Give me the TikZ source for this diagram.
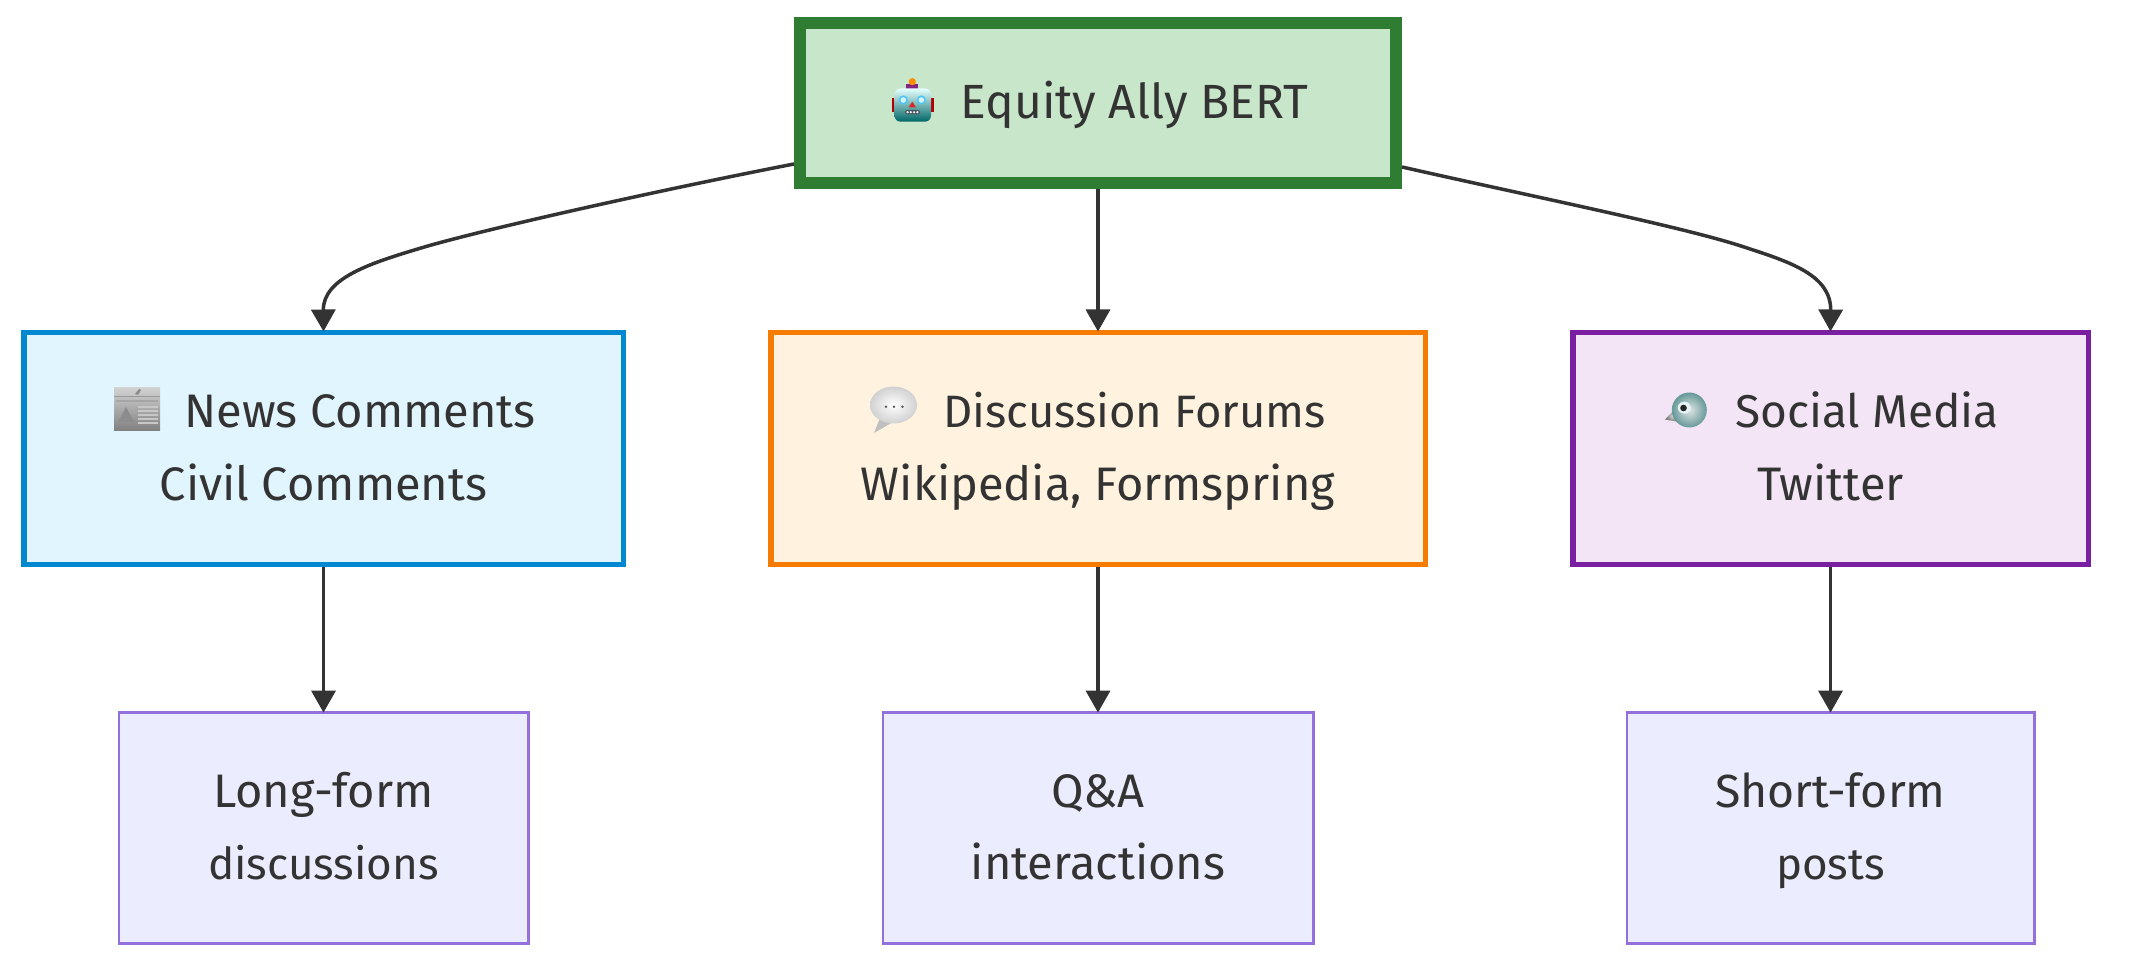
\documentclass[tikz,border=0pt]{standalone}
\usepackage{fontspec}
\setmainfont{Fira Sans}
\newfontfamily\emojifont{Noto Emoji}
\usetikzlibrary{arrows.meta}
\definecolor{ink}{HTML}{333333}
\definecolor{rootfill}{HTML}{C8E6C9}\definecolor{rootline}{HTML}{2E7D32}
\definecolor{newsfill}{HTML}{E1F5FE}\definecolor{newsline}{HTML}{0288D1}
\definecolor{discfill}{HTML}{FFF3E0}\definecolor{discline}{HTML}{F57C00}
\definecolor{socfill}{HTML}{F3E5F5}\definecolor{socline}{HTML}{7B1FA2}
\definecolor{leaffill}{HTML}{ECECFF}\definecolor{leafline}{HTML}{9370DB}
\newcommand{\lstrut}{\rule[-10.4pt]{0pt}{36.3pt}}
\newcommand{\fsz}[1]{\fontsize{#1}{36.35}\selectfont}
% #1 glyph, #2 offset from the slot start, #3 raise
\newcommand{\emo}[3]{\makebox[36.5pt][l]{\hspace{#2}\raisebox{#3}{\textcolor{gray}{\emojifont\fontsize{12pt}{12pt}\selectfont #1}}}}
\tikzset{
  x=.5pt,y=-.5pt,
  base/.style={rectangle,inner sep=0pt,align=center,text=ink,
    font=\fontsize{23.5}{36.35}\selectfont},
  rootbox/.style={base,draw=rootline,fill=rootfill,line width=6pt,minimum width=298pt,minimum height=80pt},
  newsbox/.style={base,draw=newsline,fill=newsfill,line width=2.8pt,minimum width=299.8pt,minimum height=115.8pt},
  discbox/.style={base,draw=discline,fill=discfill,line width=2.8pt,minimum width=327.3pt,minimum height=115.8pt},
  socbox/.style={base,draw=socline,fill=socfill,line width=2.8pt,minimum width=257.8pt,minimum height=115.8pt},
  leafbox/.style={base,draw=leafline,fill=leaffill,line width=1.35pt,minimum height=115.65pt},
  conn/.style={draw=ink,line width=1.75pt,shorten >=-.8pt,-{Triangle[length=11pt,width=12pt,fill=ink]}}
}
\begin{document}
\begin{tikzpicture}
\useasboundingbox[fill=white] (0,0) rectangle (2136,978);
\coordinate (lm) at (421,248);
\coordinate (rm) at (1744,247);
\node[rootbox] (root) at (1098,103) {\lstrut\emo{🤖}{4.5pt}{2pt}{\fsz{24}Equity Ally BERT}};
\node[newsbox] (news) at (323.5,448.5) {\lstrut\emo{📰}{5.5pt}{4pt}News Comments\\\lstrut Civil Comments};
\node[discbox] (disc) at (1098,448.5) {\lstrut\emo{💬}{5.5pt}{6.5pt}{\fsz{22.7}Discussion Forums}\\\lstrut Wikipedia, Formspring};
\node[socbox] (soc) at (1830.5,448.5) {\lstrut\emo{🐦}{6.5pt}{4pt}{\fsz{23}Social Media}\\\lstrut Twitter};
\node[leafbox,minimum width=204.65pt] (long) at (323.5,828) {\lstrut Long-form\\\lstrut{\fsz{22}discussions}};
\node[leafbox,minimum width=215.15pt] (qa) at (1098,828) {\lstrut Q\&A\\\lstrut interactions};
\node[leafbox,minimum width=203.65pt] (short) at (1830.5,828) {\lstrut{\fsz{23.2}Short-form}\\\lstrut{\fsz{22}posts}};
% connectors
\draw[conn] ([yshift=-30.5pt]root.west) .. controls (660,190) and (481,230) .. (lm) .. controls (371,263) and (323,278) .. (news.north);
\draw[conn] (root) -- (disc);
\draw[conn] ([yshift=-32pt]root.east) .. controls (1530,196) and (1684,227) .. (rm) .. controls (1790,262) and (1831,275) .. (soc.north);
\draw[conn] (news) -- (long);
\draw[conn] (disc) -- (qa);
\draw[conn] (soc) -- (short);
% robot colouring
\fill[red!70!black] (892,98) rectangle (896,112);
\fill[red!70!black] (930,98) rectangle (934,112);
\fill[violet!70!gray] (906,84.5) rectangle (918,90);
\fill[orange!90!yellow] (912.3,81.7) circle (3.6);
\shade[rounded corners=3pt,top color=cyan!10!white,middle color=cyan!25!gray!40,bottom color=cyan!40!black] (894.5,88.5) rectangle (931,121.7);
\fill[cyan!70!white] (903.3,100) circle (4.6);\fill[white!85!cyan] (903.3,100) circle (2.8);
\fill[cyan!70!white] (921.3,100) circle (4.6);\fill[white!85!cyan] (921.3,100) circle (2.8);
\fill[red!70!gray] (912.3,101.7) -- (908.5,107.5) -- (916,107.5) -- cycle;
\fill[black!70!cyan,rounded corners=1pt] (905,110) rectangle (920,114.5);
\foreach \mx in {907.5,910.8,914.1,917.4}{\fill[white!85!gray] (\mx,112.2) circle (1.3);}
% newspaper colouring
\shade[top color=black!18,middle color=black!7,bottom color=black!50] (114,388) rectangle (160,431);
\fill[black!40] (114,396) rectangle (160,397.5);
\fill[black!35] (116,400) rectangle (158,402);
\fill[black!45] (135,394) -- (139,389) -- (141,390) -- (138,395) -- cycle;
\fill[black!45] (126,407) -- (134,422) -- (118,422) -- cycle;
\foreach \ly in {406,410,414,418,422}{\fill[black!22] (138,\ly) rectangle (158,\ly+2);}
% speech bubble colouring
\fill[black!25] (880,418) -- (874,433) -- (893,422) -- cycle;
\shade[inner color=white,outer color=black!18] (893.5,405) ellipse (23.5 and 18.5);
\fill[black!65] (886,406.7) circle (1.4);
\fill[black!65] (894,406.7) circle (1.4);
\fill[black!65] (902.5,406.7) circle (1.4);
% bird colouring
\shade[inner color=black!15,outer color=black!55] (1665,419.5) -- (1675,409.3) -- (1681,414) -- (1679,422) -- cycle;
\shade[inner color=cyan!12!black!12,outer color=teal!50!gray!80] (1689.3,410) circle (17.5);
\fill[white!90!teal] (1684.3,407.7) ellipse (6.5 and 6);
\fill[black!85] (1683.5,408) circle (3.3);
\end{tikzpicture}
\end{document}
